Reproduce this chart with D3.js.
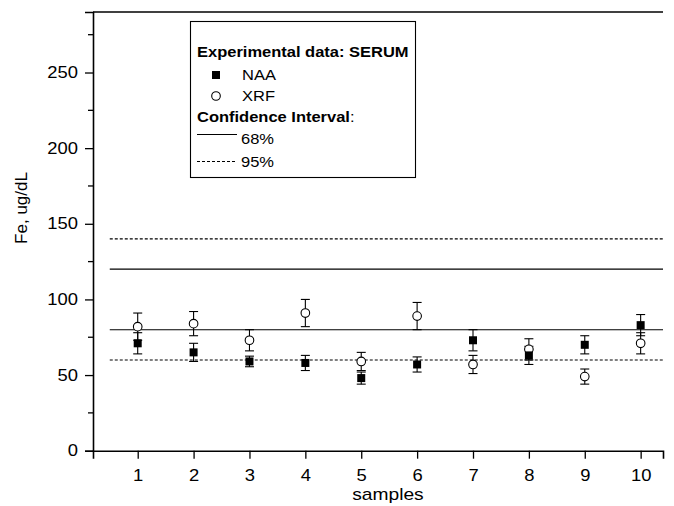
<!DOCTYPE html>
<html>
<head>
<meta charset="utf-8">
<script src="https://cdn.jsdelivr.net/npm/d3@7"></script>
<style>
  body { margin: 0; background: #fff; }
  text { font-family: "Liberation Sans", Arial, sans-serif; }
</style>
</head>
<body>
<div id="chart"></div>
<script>
// data
const samples = [1, 2, 3, 4, 5, 6, 7, 8, 9, 10];
const naaValues = [71, 65, 59, 58, 48, 57, 73, 63, 70, 83];
const naaErrors = [7, 6, 3.5, 5, 4, 5, 7, 6, 6, 7];
const xrfValues = [82, 84, 73, 91, 59, 89, 57, 67, 49, 71];
const xrfErrors = [9, 8, 7, 9, 6, 9, 6, 7, 5, 7];
const ciLines = [
  {value: 140, dash: true},
  {value: 120, dash: false},
  {value: 80, dash: false},
  {value: 60, dash: true}
];
const yTicks = [0, 50, 100, 150, 200, 250];

const W = 674, H = 506;
const plotLeft = 93, plotRight = 663, plotTop = 12, plotBottom = 450.7;

const svg = d3.select("#chart").append("svg")
  .attr("width", W).attr("height", H);

const x = d3.scaleLinear().domain([0.2, 10.4]).range([plotLeft, plotRight]);
const y = d3.scaleLinear().domain([0, 290]).range([plotBottom, plotTop]);

// text is a bit wider than the font in the original, so stretch it horizontally
function label(parent, tx, ty, str, size, sx, anchor) {
  return parent.append("text")
    .attr("transform", `translate(${tx},${ty}) scale(${sx},1)`)
    .attr("text-anchor", anchor || "start")
    .attr("font-size", size)
    .text(str);
}

// confidence interval lines
svg.append("g")
  .selectAll("line")
  .data(ciLines)
  .join("line")
    .attr("x1", x(0.5)).attr("x2", x(10.4))
    .attr("y1", d => y(d.value)).attr("y2", d => y(d.value))
    .attr("stroke", "#000")
    .attr("stroke-width", 1.1)
    .attr("stroke-dasharray", d => d.dash ? "3,2" : null);

// axes
const xAxis = d3.axisBottom(x).tickValues(samples).tickSizeOuter(0).tickSize(8).tickPadding(11);
const gx = svg.append("g").attr("transform", `translate(0,${plotBottom})`).call(xAxis);

const yAxis = d3.axisLeft(y).tickValues(yTicks).tickSizeOuter(0).tickSize(8).tickPadding(7);
const gy = svg.append("g").attr("transform", `translate(${plotLeft},0)`).call(yAxis);

// minor ticks on y
svg.append("g")
  .selectAll("line")
  .data(d3.range(25, 290, 50))
  .join("line")
    .attr("x1", plotLeft - 5).attr("x2", plotLeft)
    .attr("y1", d => y(d)).attr("y2", d => y(d))
    .attr("stroke", "#000").attr("stroke-width", 1.3);

const tickSx = 1.15;
[gx, gy].forEach(g => {
  g.select(".domain").attr("stroke-width", 1.6);
  g.selectAll(".tick line").attr("stroke-width", 1.3);
  g.selectAll(".tick text")
    .attr("font-family", "Liberation Sans, Arial, sans-serif")
    .attr("font-size", 16).attr("fill", "#000");
});
gy.selectAll(".tick text")
  .attr("x", -15 / tickSx)
  .attr("transform", `scale(${tickSx},1)`);
gx.selectAll(".tick text")
  .attr("transform", `scale(${tickSx},1)`);

// top frame line
svg.append("line")
  .attr("x1", plotLeft).attr("x2", plotRight)
  .attr("y1", plotTop).attr("y2", plotTop)
  .attr("stroke", "#000").attr("stroke-width", 1.6);

// axis titles
svg.append("text")
  .attr("transform", `translate(27,208) rotate(-90)`)
  .attr("text-anchor", "middle")
  .attr("font-size", 17)
  .text("Fe, ug/dL");

label(svg, 388, 500, "samples", 16, 1.2, "middle");

// error bars
function errorBars(vals, errs, cls) {
  const g = svg.append("g").attr("class", cls);
  const rows = samples.map((s, i) => ({s, v: vals[i], e: errs[i]}));
  g.selectAll("line.v").data(rows).join("line").attr("class", "v")
    .attr("x1", d => x(d.s)).attr("x2", d => x(d.s))
    .attr("y1", d => y(d.v - d.e)).attr("y2", d => y(d.v + d.e))
    .attr("stroke", "#000").attr("stroke-width", 1.1);
  ["lo", "hi"].forEach(k => {
    g.selectAll("line." + k).data(rows).join("line").attr("class", k)
      .attr("x1", d => x(d.s) - 4.5).attr("x2", d => x(d.s) + 4.5)
      .attr("y1", d => y(k === "lo" ? d.v - d.e : d.v + d.e))
      .attr("y2", d => y(k === "lo" ? d.v - d.e : d.v + d.e))
      .attr("stroke", "#000").attr("stroke-width", 1.1);
  });
  return rows;
}

const naaRows = errorBars(naaValues, naaErrors, "naa");
const xrfRows = errorBars(xrfValues, xrfErrors, "xrf");

svg.append("g").selectAll("circle")
  .data(xrfRows).join("circle")
    .attr("cx", d => x(d.s)).attr("cy", d => y(d.v))
    .attr("r", 4.3)
    .attr("fill", "#fff").attr("stroke", "#000").attr("stroke-width", 1.1);

svg.append("g").selectAll("rect")
  .data(naaRows).join("rect")
    .attr("x", d => x(d.s) - 4).attr("y", d => y(d.v) - 4)
    .attr("width", 8).attr("height", 8)
    .attr("fill", "#000");

// legend
const lg = svg.append("g");
const lgSx = 1.1, lgSize = 15;
lg.append("rect")
  .attr("x", 190.5).attr("y", 21.5).attr("width", 225).attr("height", 156)
  .attr("fill", "#fff").attr("stroke", "#000").attr("stroke-width", 1.1);

label(lg, 197, 57, "Experimental data: SERUM", lgSize, lgSx).attr("font-weight", "bold");

lg.append("rect").attr("x", 212).attr("y", 71).attr("width", 8).attr("height", 8).attr("fill", "#000");
label(lg, 242, 80, "NAA", lgSize, lgSx);

lg.append("circle").attr("cx", 216).attr("cy", 96).attr("r", 4.3)
  .attr("fill", "#fff").attr("stroke", "#000").attr("stroke-width", 1.1);
label(lg, 242, 101, "XRF", lgSize, lgSx);

const ci = label(lg, 197, 122, "", lgSize, lgSx);
ci.append("tspan").attr("font-weight", "bold").text("Confidence Interval");
ci.append("tspan").text(":");

lg.append("line").attr("x1", 197).attr("x2", 237).attr("y1", 134.5).attr("y2", 134.5)
  .attr("stroke", "#000").attr("stroke-width", 1.1);
label(lg, 241, 144, "68%", lgSize, lgSx);

lg.append("line").attr("x1", 197).attr("x2", 237).attr("y1", 161.5).attr("y2", 161.5)
  .attr("stroke", "#000").attr("stroke-width", 1.1).attr("stroke-dasharray", "3,2");
label(lg, 241, 167, "95%", lgSize, lgSx);
</script>
</body>
</html>
